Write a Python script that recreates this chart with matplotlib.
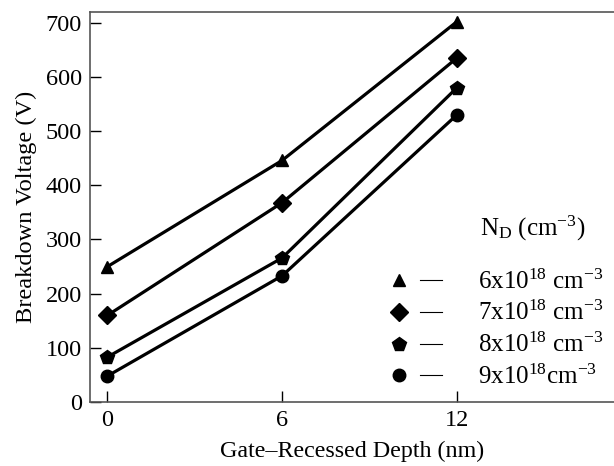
import matplotlib
matplotlib.use("Agg")
import matplotlib.pyplot as plt
from matplotlib.lines import Line2D
from matplotlib.legend_handler import HandlerTuple

plt.rcParams['font.family'] = ['Liberation Serif', 'DejaVu Serif']
plt.rcParams['mathtext.fontset'] = 'custom'
plt.rcParams['mathtext.rm'] = 'Liberation Serif'
plt.rcParams['mathtext.it'] = 'Liberation Serif:italic'

depth = [0, 6, 12]
v_6e18 = [250, 446, 702]
v_7e18 = [160, 368, 635]
v_8e18 = [83, 266, 580]
v_9e18 = [48, 233, 530]
series = [v_6e18, v_7e18, v_8e18, v_9e18]
markers = ['^', 'D', 'p', 'o']
msizes = [9, 9, 10, 9]
labels = [r'6x10$^{18}$ cm$^{-3}$', r'7x10$^{18}$ cm$^{-3}$',
          r'8x10$^{18}$ cm$^{-3}$', r'9x10$^{18}$cm$^{-3}$']
xticks = [0, 6, 12]
yticks = [0, 100, 200, 300, 400, 500, 600, 700]

fig = plt.figure(figsize=(6.14, 4.66), dpi=100)
ax = fig.add_axes([90/614, 1-402/466, 1-90/614, 390/466])

for vals, m, ms in zip(series, markers, msizes):
    ax.plot(depth, vals, color='black', lw=2.3, marker=m, ms=ms, clip_on=False)

ax.set_xlim(-0.6, 17.4)
ax.set_ylim(0, 720)
ax.set_xticks(xticks)
ax.set_yticks(yticks)
ax.tick_params(direction='in', length=8, width=1, labelsize=17.5, colors='black', pad=6)
ax.spines['right'].set_visible(False)
for s in ['left', 'top', 'bottom']:
    ax.spines[s].set_color('#555555')
    ax.spines[s].set_linewidth(1.2)

ax.set_xlabel('Gate\u2013Recessed Depth (nm)', fontsize=17.3, labelpad=7)
ax.set_ylabel('Breakdown Voltage (V)', fontsize=17.6, labelpad=6)

ax.text(0.744, 0.446, r'N$_{\mathrm{D}}$ (cm$^{-3}$)', transform=ax.transAxes,
        fontsize=18, va='center', ha='left')

handles = [(Line2D([], [], color='black', marker=m, ms=ms, ls='none'),
            Line2D([], [], color='black', lw=0.8)) for m, ms in zip(markers, msizes)]
ax.legend(handles, labels, handler_map={tuple: HandlerTuple(ndivide=None, pad=0.4)},
          loc='upper left', bbox_to_anchor=(0.569, 0.34), frameon=False,
          fontsize=18, handlelength=2.16, handletextpad=1.44, labelspacing=0.3,
          borderpad=0, borderaxespad=0)

fig.savefig('out.png', dpi=100)
